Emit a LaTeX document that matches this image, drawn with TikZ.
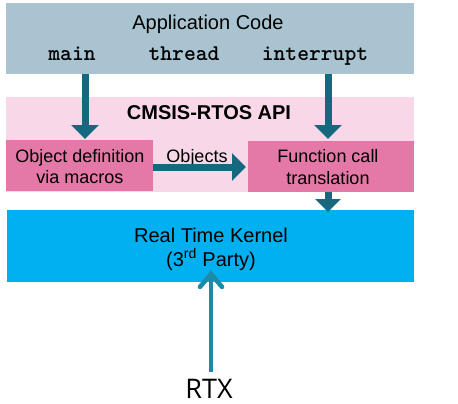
\documentclass[tikz,border=0pt]{standalone}
\usepackage{fontspec}
\setmainfont{Liberation Sans}
\newfontfamily\rtxfont{Open Sans}
\usetikzlibrary{arrows.meta,calc}
\definecolor{appc}{RGB}{169,196,208}
\definecolor{bandc}{RGB}{248,215,232}
\definecolor{boxc}{RGB}{228,121,168}
\definecolor{arrc}{RGB}{22,104,126}
\definecolor{kerc}{RGB}{0,176,240}
\definecolor{rtxc}{RGB}{26,140,170}
\tikzset{
  blk/.style={anchor=north west,inner sep=0pt,draw=none},
  lbl/.style={anchor=base,inner sep=0pt,text=black},
  codelbl/.style={lbl,font=\fontsize{22.5}{26}\selectfont\ttfamily\bfseries},
  bigarrow/.style={draw=arrc,line width=7pt,-{Triangle[width=27pt,length=14pt]}},
  medarrow/.style={draw=arrc,line width=7pt,-{Triangle[width=25pt,length=13pt]}},
  rtxarrow/.style={draw=rtxc,line width=4.5pt,-{Straight Barb[length=13pt,width=22pt,line cap=round]}},
}
\begin{document}
\begin{tikzpicture}[x=1pt,y=-1pt]
\useasboundingbox (0,0) rectangle (458,404);
\node[blk,fill=appc,minimum width=408pt,minimum height=71pt] (app) at (6,3) {};
\node[blk,fill=bandc,minimum width=408pt,minimum height=95pt] (api) at (6,97) {};
\node[blk,fill=boxc,minimum width=147pt,minimum height=51pt] (objdef) at (6,140) {};
\node[blk,fill=boxc,minimum width=166pt,minimum height=51pt] (func) at (248,141) {};
\node[blk,fill=kerc,minimum width=407pt,minimum height=72pt] (kernel) at (7,210) {};
% texts
\node[lbl,font=\fontsize{20}{24}\selectfont] (apptxt) at (208,30) {Application Code};
\node[codelbl] (main) at (72,60) {main};
\node[codelbl] (thread) at (184,60) {thread};
\node[codelbl] (intr) at (315,60) {interrupt};
\node[lbl,font=\fontsize{20}{24}\selectfont\bfseries] (apitxt) at (209,119) {CMSIS-RTOS API};
\node[lbl,font=\fontsize{18}{21}\selectfont] (objtxt1) at (80,162) {Object definition};
\node[lbl,font=\fontsize{18}{21}\selectfont] (objtxt2) at (80,183) {via macros};
\node[lbl,font=\fontsize{18}{21}\selectfont] (objects) at (197,162) {Objects};
\node[lbl,font=\fontsize{18}{21}\selectfont] (functxt1) at (328,162) {Function call};
\node[lbl,font=\fontsize{18}{21}\selectfont] (functxt2) at (328,184) {translation};
\node[lbl,font=\fontsize{20}{24}\selectfont] (kertxt1) at (211,242) {Real Time Kernel};
\node[lbl,font=\fontsize{20}{24}\selectfont] (kertxt2) at (211,266) {(3\textsuperscript{rd} Party)};
\node[lbl,font=\fontsize{27}{30}\selectfont\rtxfont] (rtx) at (209,398) {RTX};
% arrow coordinates
\coordinate (mx) at (85,0);
\coordinate (ix) at (328,0);
\coordinate (oy) at (0,167);
\coordinate (rx) at (211,0);
\coordinate (rtxtop) at (211,372);
\draw[bigarrow] (app.south -| mx) -- ($(objdef.north -| mx)+(0,-1)$);
\draw[bigarrow] (app.south -| ix) -- ($(func.north -| ix)+(0,-2)$);
\draw[bigarrow] (objdef.east |- oy) -- ($(func.west |- oy)+(-2,0)$);
\draw[medarrow] (func.south -| ix) -- ($(kernel.north -| ix)+(0,2)$);
\draw[rtxarrow,draw=black!40,opacity=0.6,shift={(1.5,1.5)}] (rtxtop) -- ($(kernel.south -| rx)+(0,-12)$);
\draw[rtxarrow] (rtxtop) -- ($(kernel.south -| rx)+(0,-12)$);
\end{tikzpicture}
\end{document}
